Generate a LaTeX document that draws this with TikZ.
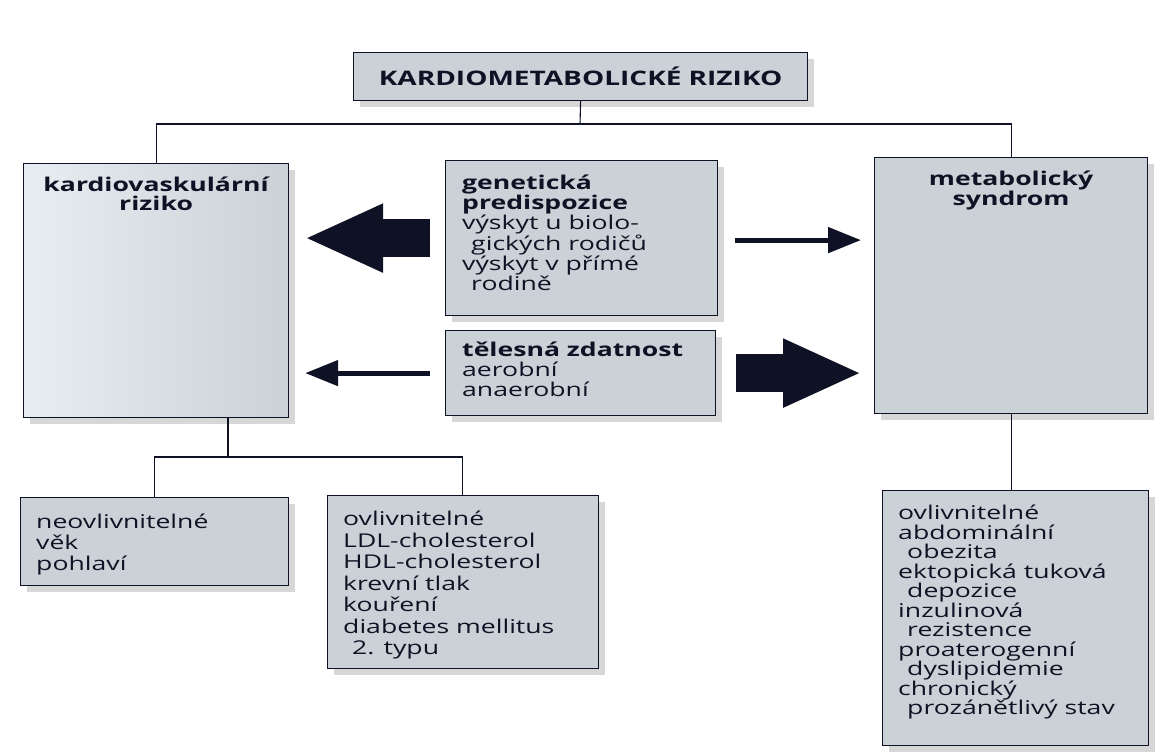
\documentclass[tikz,border=0pt]{standalone}
\usepackage{fontspec}
\setmainfont[FakeStretch=1.4]{Open Sans}
\usetikzlibrary{arrows.meta,shadows}
\definecolor{boxfill}{RGB}{202,210,215}
\definecolor{boxlight}{RGB}{230,238,242}
\definecolor{ink}{RGB}{14,18,36}
\tikzset{
  box/.style={draw=ink, line width=1.2pt, fill=boxfill, anchor=north west, inner sep=0pt,
    drop shadow={shadow xshift=6pt, shadow yshift=-6pt, fill=gray!70, opacity=.45}},
  txt/.style={anchor=north west, align=left, inner sep=0pt, text=ink,
    font=\fontsize{19}{20}\selectfont},
  head/.style={anchor=north, align=center, inner sep=0pt, text=ink,
    font=\fontsize{19}{18.5}\selectfont\bfseries},
  thinarrow/.style={draw=ink, line width=5pt, -{Triangle[length=33pt,width=25pt]}},
  bigarrow/.style={draw=ink, line width=38pt, -{Triangle[length=79pt,width=63pt]}},
  link/.style={draw=ink, line width=1.1pt}
}
\newcommand{\ind}{\hspace*{9pt}}
\begin{document}
\begin{tikzpicture}[x=1pt,y=-1pt]
\useasboundingbox (0,0) rectangle (1155,752);

% top
\node [box, minimum width=454pt, minimum height=48pt] (title) at (353,52) {};
\node [head, anchor=center, font=\fontsize{20}{20}\selectfont\bfseries] (titletxt) at (title.center) {KARDIOMETABOLICKÉ RIZIKO};

% main boxes
\node [box, minimum width=265pt, minimum height=254pt, left color=boxlight, right color=boxfill] (kv) at (23,163) {};
\node [head] (kvtxt) at ([yshift=-14pt]kv.north) {kardiovaskulární\\riziko};

\node [box, minimum width=273pt, minimum height=256pt] (ms) at (874,157) {};
\node [head] (mstxt) at ([yshift=-14pt]ms.north) {metabolický\\syndrom};

\node [box, minimum width=272pt, minimum height=155pt] (gen) at (445,160) {};
\node [txt] (gentxt) at ([shift={(17pt,-15pt)}]gen.north west)
  {\textbf{genetická}\\\textbf{predispozice}\\výskyt u biolo-\\\ind gických rodičů\\výskyt v přímé\\\ind rodině};

\node [box, minimum width=270pt, minimum height=85pt] (tel) at (445,330) {};
\node [txt] (teltxt) at ([shift={(17pt,-12pt)}]tel.north west)
  {\textbf{tělesná zdatnost}\\aerobní\\anaerobní};

% lower boxes
\node [box, minimum width=268pt, minimum height=88pt] (neo) at (20,497) {};
\node [txt, font=\fontsize{19}{21}\selectfont] (neotxt) at ([shift={(16pt,-17pt)}]neo.north west)
  {neovlivnitelné\\věk\\pohlaví};

\node [box, minimum width=271pt, minimum height=173pt] (ovl) at (327,495) {};
\node [txt, font=\fontsize{19}{21.5}\selectfont] (ovltxt) at ([shift={(16pt,-16pt)}]ovl.north west)
  {ovlivnitelné\\LDL-cholesterol\\HDL-cholesterol\\krevní tlak\\kouření\\diabetes mellitus\\\ind 2. typu};

\node [box, minimum width=266pt, minimum height=255pt] (rb) at (882,490) {};
\node [txt, font=\fontsize{19}{19.5}\selectfont] (rbtxt) at ([shift={(16pt,-15pt)}]rb.north west)
  {ovlivnitelné\\abdominální\\\ind obezita\\ektopická tuková\\\ind depozice\\inzulinová\\\ind rezistence\\proaterogenní\\\ind dyslipidemie\\chronický\\\ind prozánětlivý stav};

% connectors
\coordinate (topjoin) at (580,124);
\draw [link] (title.south) -- (topjoin);
\draw [link] (kv.north) |- (topjoin) -| (ms.north);
\coordinate (kvjoin) at (228,457);
\draw [link] (kvjoin |- kv.south) -- (kvjoin);
\draw [link] (neo.north) |- (kvjoin) -| ([xshift=-1pt]ovl.north);
\draw [link] (ms.south) -- (ms.south |- rb.north);

% arrows
\draw [bigarrow, shorten <=15pt, shorten >=15pt] (gen.west) -- (gen.west -| kv.east);
\draw [thinarrow, shorten <=17pt, shorten >=13pt] ([yshift=-2pt]gen.east) -- ([yshift=-2pt]gen.east -| ms.west);
\draw [thinarrow, shorten <=15pt, shorten >=16pt] (tel.west) -- (tel.west -| kv.east);
\draw [bigarrow, shorten <=20pt, shorten >=12pt] (tel.east) -- (tel.east -| ms.west);
\end{tikzpicture}
\end{document}
